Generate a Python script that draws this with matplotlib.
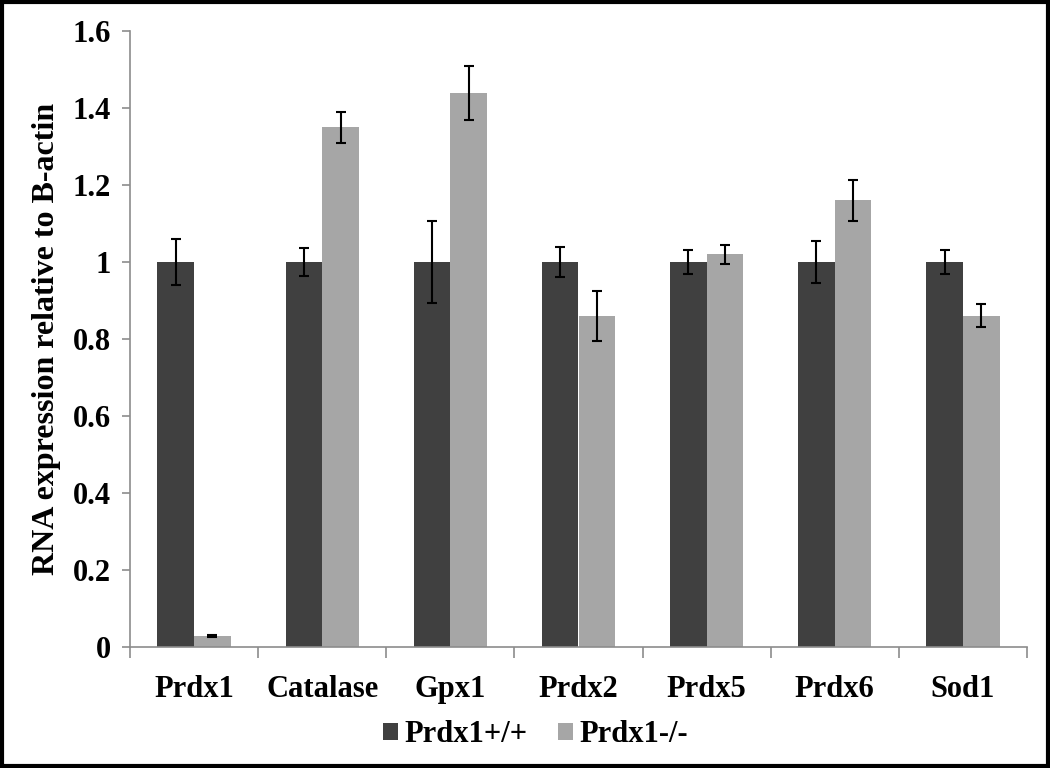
import matplotlib
matplotlib.use("Agg")
import matplotlib.pyplot as plt
from matplotlib.patches import Rectangle
import numpy as np

genes = ["Prdx1", "Catalase", "Gpx1", "Prdx2", "Prdx5", "Prdx6", "Sod1"]
wt_mean = [1.0, 1.0, 1.0, 1.0, 1.0, 1.0, 1.0]
wt_err = [0.06, 0.037, 0.107, 0.04, 0.03, 0.055, 0.032]
ko_mean = [0.028, 1.35, 1.44, 0.86, 1.02, 1.16, 0.86]
ko_err = [0.003, 0.04, 0.07, 0.065, 0.025, 0.053, 0.03]
series_names = ["Prdx1+/+", "Prdx1-/-"]

dark = "#404040"
light = "#a6a6a6"
axis_gray = "#8c8c8c"

plt.rcParams['font.family'] = ['Liberation Serif', 'DejaVu Serif']
plt.rcParams['font.weight'] = 'bold'

fig = plt.figure(figsize=(10.5, 7.68), dpi=100)
ax = fig.add_axes([130 / 1050, 1 - 647 / 768, 897 / 1050, (647 - 31) / 768])

x = np.arange(len(genes))
w = 1 / 3.5
ekw = dict(ecolor="black", elinewidth=1.5, capsize=3.5, capthick=1.5)
ax.bar(x - w / 2, wt_mean, w, color=dark, label=series_names[0], yerr=wt_err, error_kw=ekw)
ax.bar(x + w / 2, ko_mean, w, color=light, label=series_names[1], yerr=ko_err, error_kw=ekw)

ax.set_xlim(-0.5, len(genes) - 0.5)
ax.set_ylim(0, 1.6)
ax.set_yticks(np.arange(0, 1.61, 0.2))
ax.set_yticklabels(["0", "0.2", "0.4", "0.6", "0.8", "1", "1.2", "1.4", "1.6"])
ax.set_xticks(x)
ax.set_xticklabels(genes)
ax.set_xticks(np.arange(-0.5, len(genes), 1), minor=True)
ax.tick_params(axis="x", which="major", length=0, pad=20, labelsize=22)
ax.tick_params(axis="x", which="minor", length=8, color=axis_gray, width=1.2)
ax.tick_params(axis="y", length=6, color=axis_gray, width=1.2, labelsize=22, pad=8)

for s in ["top", "right"]:
    ax.spines[s].set_visible(False)
for s in ["left", "bottom"]:
    ax.spines[s].set_color(axis_gray)
    ax.spines[s].set_linewidth(1.2)

ax.set_ylabel("RNA expression relative to B-actin", fontsize=23, fontweight="bold")
ax.yaxis.set_label_coords(-0.077, 0.5)

leg = fig.legend(loc="center", bbox_to_anchor=(0.51, 1 - 735 / 768), ncol=2, frameon=False,
                 prop=dict(size=22, weight="bold"), handlelength=0.5, handleheight=0.5,
                 handletextpad=0.2, columnspacing=1.0)

fig.patches.append(Rectangle((0.002, 0.003), 0.996, 0.994, transform=fig.transFigure,
                             fill=False, edgecolor="black", linewidth=3))

fig.savefig("out.png", dpi=100)
